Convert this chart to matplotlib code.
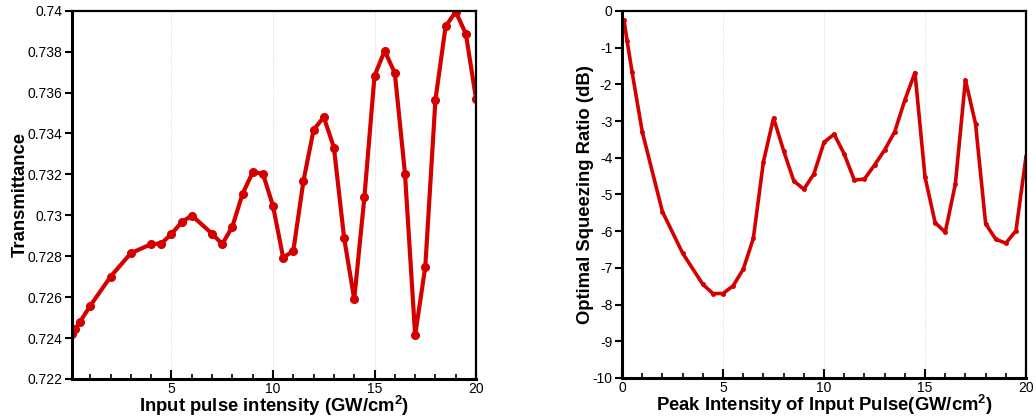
import matplotlib
matplotlib.use('Agg')
import matplotlib.pyplot as plt
from matplotlib.ticker import MultipleLocator, FormatStrFormatter

plt.rcParams['font.family'] = ['Liberation Sans', 'DejaVu Sans']
plt.rcParams['mathtext.fontset'] = 'custom'
plt.rcParams['mathtext.rm'] = 'Liberation Sans'
plt.rcParams['mathtext.bf'] = 'Liberation Sans:bold'
plt.rcParams['axes.unicode_minus'] = False

# left panel: transmittance vs input intensity
x_left = [0.1, 0.25, 0.5, 1, 2, 3, 4, 4.5, 5, 5.5, 6, 7, 7.5, 8, 8.5, 9, 9.5, 10,
          10.5, 11, 11.5, 12, 12.5, 13, 13.5, 14, 14.5, 15, 15.5, 16, 16.5, 17,
          17.5, 18, 18.5, 19, 19.5, 20]
transmittance = [0.72419, 0.72443, 0.7248, 0.72558, 0.7270, 0.72815, 0.72859, 0.72862,
                 0.72909, 0.72966, 0.72999, 0.7291, 0.72859, 0.72945, 0.73105, 0.7321,
                 0.73204, 0.73046, 0.72793, 0.72826, 0.73168, 0.73418, 0.7348, 0.73331,
                 0.72891, 0.7259, 0.73087, 0.73682, 0.73804, 0.73695, 0.73204, 0.72414,
                 0.72748, 0.73564, 0.73923, 0.73995, 0.73886, 0.73569]

# right panel: optimal squeezing ratio
x_right = [0.1, 0.25, 0.5, 1, 2, 3, 4, 4.5, 5, 5.5, 6, 6.5, 7, 7.5, 8, 8.5, 9, 9.5,
           10, 10.5, 11, 11.5, 12, 12.5, 13, 13.5, 14, 14.5, 15, 15.5, 16, 16.5,
           17, 17.5, 18, 18.5, 19, 19.5, 20]
squeezing = [-0.26, -0.81, -1.67, -3.29, -5.47, -6.60, -7.45, -7.70, -7.70, -7.49,
             -7.04, -6.20, -4.11, -2.92, -3.81, -4.63, -4.86, -4.44, -3.58, -3.36,
             -3.90, -4.61, -4.58, -4.20, -3.79, -3.29, -2.43, -1.68, -4.53, -5.77,
             -6.03, -4.72, -1.88, -3.08, -5.80, -6.22, -6.33, -5.99, -3.97]

red = '#d40000'

fig = plt.figure(figsize=(10.36, 4.19), dpi=100)
ax1 = fig.add_axes([0.0695, 0.0955, 0.39, 0.879])
ax2 = fig.add_axes([0.6004, 0.098, 0.39, 0.876])


def style(ax):
    for s in ['left', 'bottom']:
        ax.spines[s].set_linewidth(2.2)
    for s in ['top', 'right']:
        ax.spines[s].set_linewidth(1.6)
    ax.xaxis.set_major_locator(MultipleLocator(5))
    ax.xaxis.set_minor_locator(MultipleLocator(1))
    ax.tick_params(axis='x', which='major', direction='in', length=6.5, width=1.5,
                   labelsize=10, pad=2)
    ax.tick_params(axis='x', which='minor', direction='in', length=3.5, width=1.2)
    ax.tick_params(axis='y', which='major', direction='out', length=5, width=1.5,
                   labelsize=10, pad=2)
    ax.grid(axis='x', which='major', color='#cccccc', linestyle=':', linewidth=0.6)


ax1.plot(x_left, transmittance, color=red, linewidth=3, marker='o', markersize=5.5)
ax1.set_xlim(0.1, 20)
ax1.set_ylim(0.722, 0.74)
ax1.set_xticks([5, 10, 15, 20])
ax1.yaxis.set_major_locator(MultipleLocator(0.002))
ax1.yaxis.set_major_formatter(FormatStrFormatter('%g'))
style(ax1)
ax1.set_xlabel(r'Input pulse intensity (GW/cm$^{\mathbf{2}}$)', fontsize=13.3,
               fontweight='bold', labelpad=-1)
ax1.set_ylabel('Transmittance', fontsize=13.3, fontweight='bold', labelpad=-1)

ax2.plot(x_right, squeezing, color=red, linewidth=2.6, marker='o', markersize=2.5)
ax2.set_xlim(0, 20)
ax2.set_ylim(-10, 0)
ax2.yaxis.set_major_locator(MultipleLocator(1))
style(ax2)
ax2.set_xlabel(r'Peak Intensity of Input Pulse(GW/cm$^{\mathbf{2}}$)', fontsize=13.3,
               fontweight='bold', labelpad=-1)
ax2.set_ylabel('Optimal Squeezing Ratio (dB)', fontsize=13.3, fontweight='bold', labelpad=-1)

fig.savefig('out.png', dpi=100)
